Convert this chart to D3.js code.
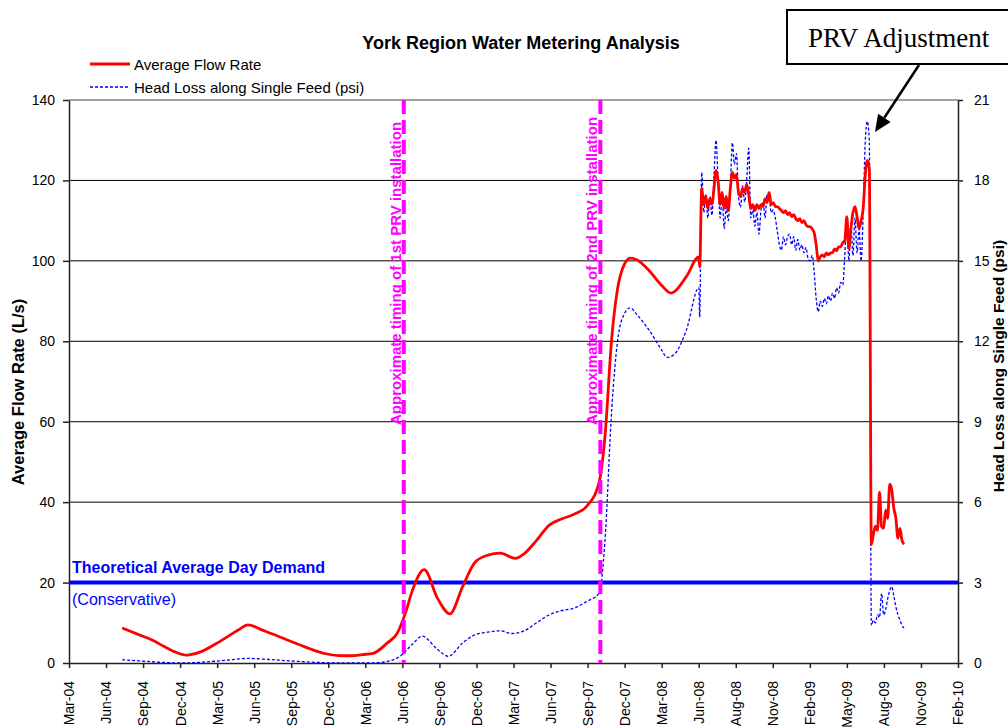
<!DOCTYPE html>
<html>
<head>
<meta charset="utf-8">
<script src="https://cdn.jsdelivr.net/npm/d3@7"></script>
<style>
  body { margin: 0; background: #fff; }
  svg { display: block; font-family: "Liberation Sans", Arial, sans-serif; }
</style>
</head>
<body>
<svg id="chart" width="1008" height="727"></svg>
<script>
// ---- data ----
const xTickLabels = ["Mar-04", "Jun-04", "Sep-04", "Dec-04", "Mar-05", "Jun-05", "Sep-05", "Dec-05",
  "Mar-06", "Jun-06", "Sep-06", "Dec-06", "Mar-07", "Jun-07", "Sep-07", "Dec-07", "Mar-08",
  "Jun-08", "Aug-08", "Nov-08", "Feb-09", "May-09", "Aug-09", "Nov-09", "Feb-10"];
const xStartDate = "2004-03-13";
const xEndDate = "2010-02-25";

const flowTicks = [0, 20, 40, 60, 80, 100, 120, 140];
const psiTicks = [0, 3, 6, 9, 12, 15, 18, 21];

// monthly averages (L/s), smoothed in the original
const flowSmooth = [
  ["2004-07-21", 8.7], ["2004-09-01", 7.0], ["2004-10-01", 5.8], ["2004-11-01", 4.1],
  ["2004-12-01", 2.6], ["2004-12-25", 1.95], ["2005-01-01", 2.0], ["2005-02-01", 2.9],
  ["2005-03-01", 4.4], ["2005-04-01", 6.3], ["2005-05-01", 8.2], ["2005-05-25", 9.5],
  ["2005-07-01", 8.1], ["2005-08-01", 6.9], ["2005-09-01", 5.6], ["2005-10-01", 4.4],
  ["2005-11-01", 3.2], ["2005-12-01", 2.3], ["2006-01-01", 1.85], ["2006-02-01", 1.8],
  ["2006-03-01", 2.1], ["2006-03-27", 2.4], ["2006-05-01", 5.0], ["2006-05-25", 7.4],
  ["2006-06-14", 12.4], ["2006-07-01", 18.0], ["2006-07-30", 23.2], ["2006-09-01", 16.0],
  ["2006-10-01", 12.2], ["2006-11-01", 19.0], ["2006-12-01", 25.0], ["2007-01-01", 26.8],
  ["2007-02-01", 27.3], ["2007-03-10", 26.0], ["2007-04-01", 27.2], ["2007-05-01", 30.5],
  ["2007-06-01", 34.3], ["2007-07-01", 35.8], ["2007-08-01", 37.0], ["2007-09-01", 39.0],
  ["2007-10-01", 45.0], ["2007-10-15", 56.0], ["2007-11-01", 81.0], ["2007-11-15", 93.0],
  ["2007-12-01", 99.0], ["2007-12-16", 100.7], ["2008-01-01", 100.3], ["2008-02-01", 97.5],
  ["2008-03-01", 94.0], ["2008-03-25", 92.0], ["2008-05-01", 96.0], ["2008-06-01", 101.0]
];

// head loss (psi), same months
const headLossSmooth = [
  ["2004-07-21", 0.12], ["2004-09-01", 0.08], ["2004-11-01", 0.02], ["2004-12-15", 0.0],
  ["2005-02-01", 0.03], ["2005-04-01", 0.1], ["2005-05-25", 0.17], ["2005-07-15", 0.13],
  ["2005-09-15", 0.07], ["2005-11-15", 0.02], ["2006-01-15", 0.0], ["2006-03-15", 0.0],
  ["2006-04-15", 0.02], ["2006-05-15", 0.12], ["2006-06-01", 0.25], ["2006-07-01", 0.7],
  ["2006-07-25", 1.0], ["2006-09-01", 0.5], ["2006-09-27", 0.25], ["2006-11-01", 0.75],
  ["2006-12-01", 1.05], ["2007-01-01", 1.15], ["2007-02-01", 1.2], ["2007-03-01", 1.1],
  ["2007-04-01", 1.2], ["2007-05-01", 1.5], ["2007-06-01", 1.8], ["2007-07-01", 1.95],
  ["2007-08-01", 2.05], ["2007-09-01", 2.3], ["2007-10-01", 2.6], ["2007-10-15", 4.5],
  ["2007-11-01", 9.5], ["2007-11-15", 12.0], ["2007-12-01", 13.0], ["2007-12-16", 13.25],
  ["2008-01-01", 13.0], ["2008-02-01", 12.4], ["2008-03-01", 11.7], ["2008-03-15", 11.4],
  ["2008-04-01", 11.5], ["2008-05-01", 12.4], ["2008-06-01", 14.0]
];

// metered readings from June 2008, one every 5 days
const denseStart = "2008-06-03";
const denseStepDays = 5;
const flowDense = [
  98.5, 118, 114, 116, 113, 115.5, 114, 118, 122.5, 120,
  114, 117, 113, 116, 112.5, 118, 122, 120.5, 121.5, 117,
  116, 118, 117, 119, 116.5, 113, 114, 112.5, 114, 113,
  114, 113.5, 115.5, 114.5, 117, 114, 114.5, 113.5, 113.5, 113,
  112.5, 112, 112.5, 111.5, 112, 111, 111.5, 110.5, 110, 110.5,
  109.5, 110, 109, 108.5, 108.5, 108, 107, 104, 100, 101,
  101.5, 101, 102, 101.5, 102, 102, 103, 102.5, 103.5, 103.5,
  104.5, 105, 111, 103, 108, 112, 113.5, 111, 108, 110,
  113, 121, 125, 123, 29.5, 32, 34, 33, 42.5, 34,
  33.5, 38, 36, 44.5, 43, 38.5, 36, 31, 33.5, 30.5,
  29.5
];
const headLossDense = [
  12.9, 18.3, 16.8, 17.5, 16.6, 17.4, 16.7, 18.2, 19.5, 18.0,
  16.6, 17.4, 16.2, 17.0, 16.5, 17.8, 19.4, 18.6, 19.0, 17.4,
  17.0, 17.8, 17.2, 18.0, 19.2, 16.6, 16.9, 16.3, 16.8, 16.0,
  16.9, 17.2, 16.6, 17.5, 17.4, 16.8, 16.9, 16.6, 16.1, 15.6,
  15.4, 15.9, 15.6, 15.9, 16.0, 15.6, 15.9, 15.4, 15.8, 15.4,
  15.6, 15.3, 15.5, 15.1, 15.0, 15.2, 14.6, 13.6, 13.1, 13.5,
  13.3, 13.6, 13.4, 13.7, 13.5, 13.8, 13.6, 14.0, 13.8, 14.2,
  14.1, 15.2, 16.6, 15.0, 16.4, 15.2, 16.6, 15.3, 16.2, 15.0,
  16.8, 19.4, 20.2, 19.5, 1.4, 1.6, 1.5, 1.8, 1.7, 2.6,
  1.8, 2.0, 2.4, 2.7, 2.85, 2.5, 2.1, 1.8, 1.6, 1.4,
  1.3
];

const demandLevel = 20;
const prvDates = ["2006-06-10", "2007-10-04"];
const prvLabels = ["Approximate timing of 1st PRV installation", "Approximate timing of 2nd PRV installation"];

// ---- layout ----
const plotLeft = 69, plotRight = 958, plotTop = 100, plotBottom = 663;
const parse = d3.utcParse("%Y-%m-%d");

const svg = d3.select("#chart");

const t0 = parse(xStartDate), t1 = parse(xEndDate);
const x = d3.scaleUtc().domain([t0, t1]).range([plotLeft, plotRight]);
const yFlow = d3.scaleLinear().domain([0, 140]).range([plotBottom, plotTop]);
const yPsi = d3.scaleLinear().domain([0, 21]).range([plotBottom, plotTop]);

// ticks sit at even steps across the axis, as in the original
const xTickDates = xTickLabels.map((_, i) => new Date(+t0 + i * (t1 - t0) / (xTickLabels.length - 1)));

const toSeries = (smooth, dense) => smooth.map(([d, v]) => ({ date: parse(d), v }))
  .concat(dense.map((v, i) => ({ date: d3.utcDay.offset(parse(denseStart), i * denseStepDays), v })));

const flow = toSeries(flowSmooth, flowDense);
const headLoss = toSeries(headLossSmooth, headLossDense);

// gridlines
svg.append("g")
  .selectAll("line")
  .data(flowTicks.filter(t => t > 0 && t < 140))
  .join("line")
    .attr("x1", plotLeft).attr("x2", plotRight)
    .attr("y1", d => yFlow(d)).attr("y2", d => yFlow(d))
    .attr("stroke", "#000").attr("stroke-width", 1);

svg.append("line")
  .attr("x1", plotLeft).attr("x2", plotRight).attr("y1", plotTop).attr("y2", plotTop)
  .attr("stroke", "#808080").attr("stroke-width", 1.5);

// demand line
svg.append("line")
  .attr("x1", plotLeft).attr("x2", plotRight)
  .attr("y1", yFlow(demandLevel)).attr("y2", yFlow(demandLevel))
  .attr("stroke", "#0000ff").attr("stroke-width", 4);

// axes
const styleAxis = g => {
  g.attr("font-size", 14).attr("font-family", "Liberation Sans, Arial, sans-serif");
  g.select(".domain").attr("stroke", "#222").attr("stroke-width", 1.5);
  g.selectAll(".tick line").attr("stroke", "#222").attr("stroke-width", 1.5);
  g.selectAll("text").attr("fill", "#000");
};

svg.append("g")
  .attr("transform", `translate(${plotLeft},0)`)
  .call(d3.axisLeft(yFlow).tickValues(flowTicks).tickSize(6).tickSizeOuter(0).tickPadding(8))
  .call(styleAxis);

svg.append("g")
  .attr("transform", `translate(${plotRight},0)`)
  .call(d3.axisRight(yPsi).tickValues(psiTicks).tickSize(5).tickSizeOuter(0).tickPadding(11))
  .call(styleAxis);

svg.append("g")
  .attr("transform", `translate(0,${plotBottom})`)
  .call(d3.axisBottom(x).tickValues(xTickDates).tickFormat((d, i) => xTickLabels[i]).tickSize(5).tickSizeOuter(0))
  .call(styleAxis)
  .call(g => g.selectAll("text")
    .attr("transform", "rotate(-90)")
    .attr("x", -18).attr("y", 0).attr("dy", "0.35em")
    .attr("text-anchor", "end"));

// series
const headLine = d3.line().x(d => x(d.date)).y(d => yPsi(d.v)).curve(d3.curveMonotoneX);
const flowLine = d3.line().x(d => x(d.date)).y(d => yFlow(d.v)).curve(d3.curveMonotoneX);

svg.append("path")
  .datum(headLoss)
  .attr("d", headLine)
  .attr("fill", "none").attr("stroke", "#0000ff")
  .attr("stroke-width", 1.3).attr("stroke-dasharray", "3,2");

svg.append("path")
  .datum(flow)
  .attr("d", flowLine)
  .attr("fill", "none").attr("stroke", "#ff0000")
  .attr("stroke-width", 2.8).attr("stroke-linejoin", "round");

// PRV installation markers
const prv = svg.append("g");
prv.selectAll("line")
  .data(prvDates)
  .join("line")
    .attr("x1", d => x(parse(d))).attr("x2", d => x(parse(d)))
    .attr("y1", plotTop).attr("y2", plotBottom)
    .attr("stroke", "#ff00ff").attr("stroke-width", 4).attr("stroke-dasharray", "14,6");

prv.selectAll("text")
  .data(prvDates)
  .join("text")
    .attr("transform", d => `translate(${x(parse(d)) - 3},425) rotate(-90)`)
    .attr("font-size", 15).attr("font-weight", "bold").attr("fill", "#ff00ff")
    .text((d, i) => prvLabels[i]);

// demand annotation
svg.append("text")
  .attr("x", 72).attr("y", 573)
  .attr("font-size", 16).attr("font-weight", "bold").attr("fill", "#0000ff")
  .text("Theoretical Average Day Demand");
svg.append("text")
  .attr("x", 72).attr("y", 605)
  .attr("font-size", 16).attr("fill", "#0000ff")
  .text("(Conservative)");

// title
svg.append("text")
  .attr("x", 521).attr("y", 49)
  .attr("text-anchor", "middle")
  .attr("font-size", 18).attr("font-weight", "bold")
  .text("York Region Water Metering Analysis");

// legend
const legend = svg.append("g");
legend.append("line").attr("x1", 90).attr("x2", 130).attr("y1", 64).attr("y2", 64)
  .attr("stroke", "#ff0000").attr("stroke-width", 2.8);
legend.append("text").attr("x", 134).attr("y", 70).attr("font-size", 15).text("Average Flow Rate");
legend.append("line").attr("x1", 90).attr("x2", 130).attr("y1", 87).attr("y2", 87)
  .attr("stroke", "#0000ff").attr("stroke-width", 1.3).attr("stroke-dasharray", "3,2");
legend.append("text").attr("x", 134).attr("y", 93).attr("font-size", 15).text("Head Loss along Single Feed (psi)");

// axis titles
svg.append("text")
  .attr("transform", "translate(24,392) rotate(-90)")
  .attr("text-anchor", "middle")
  .attr("font-size", 16.5).attr("font-weight", "bold")
  .text("Average Flow Rate (L/s)");
svg.append("text")
  .attr("transform", "translate(1004,366) rotate(-90)")
  .attr("text-anchor", "middle")
  .attr("font-size", 15.5).attr("font-weight", "bold")
  .text("Head Loss along Single Feed (psi)");

// PRV adjustment callout
svg.append("rect")
  .attr("x", 787).attr("y", 10).attr("width", 240).attr("height", 54)
  .attr("fill", "#fff").attr("stroke", "#000").attr("stroke-width", 2);
svg.append("text")
  .attr("x", 808).attr("y", 47)
  .attr("font-family", "Liberation Serif, Times New Roman, serif")
  .attr("font-size", 27)
  .text("PRV Adjustment");

const arrowFrom = [919, 65], arrowTip = [875, 132];
const adx = arrowTip[0] - arrowFrom[0], ady = arrowTip[1] - arrowFrom[1];
const alen = Math.hypot(adx, ady), ux = adx / alen, uy = ady / alen;
const headLen = 17, headHalf = 7.5;
const bx = arrowTip[0] - ux * headLen, by = arrowTip[1] - uy * headLen;
svg.append("line")
  .attr("x1", arrowFrom[0]).attr("y1", arrowFrom[1]).attr("x2", bx).attr("y2", by)
  .attr("stroke", "#000").attr("stroke-width", 2.5);
svg.append("path")
  .attr("d", `M${arrowTip[0]},${arrowTip[1]}L${bx - uy * headHalf},${by + ux * headHalf}L${bx + uy * headHalf},${by - ux * headHalf}Z`)
  .attr("fill", "#000");
</script>
</body>
</html>
